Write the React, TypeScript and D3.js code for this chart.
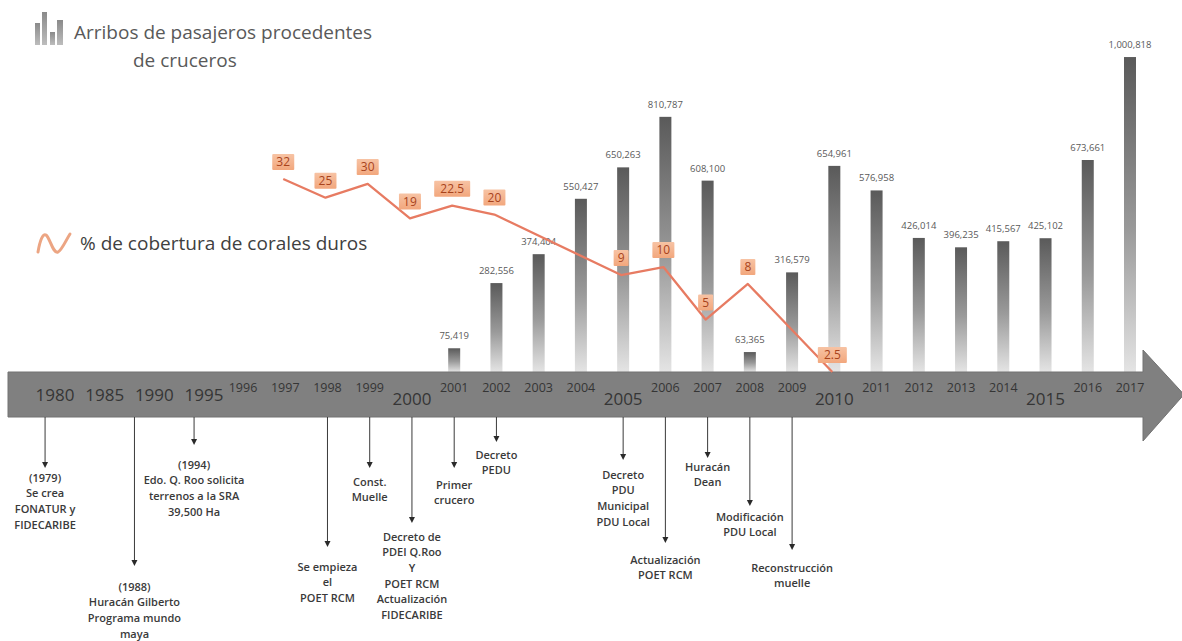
import React from "react";
import * as d3 from "d3";

const W = 1182;
const H = 641;

// Cruise passenger arrivals (bars)
const barYears = [2001, 2002, 2003, 2004, 2005, 2006, 2007, 2008, 2009, 2010, 2011, 2012, 2013, 2014, 2015, 2016, 2017];
const arrivals = [75419, 282556, 374404, 550427, 650263, 810787, 608100, 63365, 316579, 654961, 576958, 426014, 396235, 415567, 425102, 673661, 1000818];

// % hard coral cover (line)
const coralYears = [1997, 1998, 1999, 2000, 2001, 2002, 2005, 2006, 2007, 2008, 2010];
const coralCover = [32, 25, 30, 19, 22.5, 20, 9, 10, 5, 8, 2.5];
const coralLabels = ["32", "25", "30", "19", "22.5", "20", "9", "10", "5", "8", "2.5"];

// timeline tick labels
const majorYears = [1980, 1985, 1990, 1995, 2000, 2005, 2010, 2015];
const minorYears = [1996, 1997, 1998, 1999, 2001, 2002, 2003, 2004, 2006, 2007, 2008, 2009, 2011, 2012, 2013, 2014, 2016, 2017];

// timeline events
const eventYears = [1979, 1988, 1994, 1998, 1999, 2000, 2001, 2002, 2005, 2006, 2007, 2008, 2009];
const eventTexts = [
  ["(1979)", "Se crea", "FONATUR y", "FIDECARIBE"],
  ["(1988)", "Huracán Gilberto", "Programa mundo", "maya"],
  ["(1994)", "Edo. Q. Roo solicita", "terrenos a la SRA", "39,500  Ha"],
  ["Se empieza", "el", "POET RCM"],
  ["Const.", "Muelle"],
  ["Decreto de", "PDEI Q.Roo", "Y", "POET RCM", "Actualización", "FIDECARIBE"],
  ["Primer", "crucero"],
  ["Decreto", "PEDU"],
  ["Decreto", "PDU", "Municipal", "PDU Local"],
  ["Actualización", "POET RCM"],
  ["Huracán", "Dean"],
  ["Modificación", "PDU Local"],
  ["Reconstrucción", "muelle"],
];

const titleLines = ["Arribos de pasajeros procedentes", "de cruceros"];
const coralLegend = "% de cobertura de corales duros";

export default function App() {
  // layout
  const bandTop = 372;
  const bandBottom = 417;
  const bandLeft = 8;
  const shaftEnd = 1143;
  const tipX = 1184;
  const headTop = 350;
  const headBottom = 441;
  const bandMid = (bandTop + bandBottom) / 2;

  // arrow tip y and first text line y for each event (layout only)
  const eventTip = [468, 566, 445, 547, 468, 523, 468, 442, 460, 543, 458, 506, 550];
  const eventText = [478, 587, 465, 567, 482, 537, 485, 455, 475, 560, 467, 517, 568];
  const lineH = 15.6;

  const x = d3.scaleLinear().domain([1980, 1995, 1996, 2017]).range([55, 204, 243, 1130]);
  const yBar = d3.scaleLinear().domain([0, 1000000]).range([bandTop, 57.3]);
  const yCoral = d3.scaleLog().domain([2.5, 32]).range([bandTop, 179]);
  const fmt = d3.format(",");
  const barW = 12;

  const linePath = d3
    .line<number>()
    .x((_, i) => x(coralYears[i]) - 2)
    .y((d) => yCoral(d))(coralCover);

  const font = "'Open Sans', 'DejaVu Sans', sans-serif";

  return (
    <svg width={W} height={H} style={{ position: "absolute", left: 0, top: 0, background: "#fff" }} fontFamily={font}>
      <defs>
        <linearGradient id="barGrad" x1="0" y1="0" x2="0" y2="1">
          <stop offset="0" stopColor="#5a5a5a" />
          <stop offset="0.55" stopColor="#9a9a9a" />
          <stop offset="1" stopColor="#e4e4e4" />
        </linearGradient>
        <linearGradient id="iconGrad" x1="0" y1="0" x2="0" y2="1">
          <stop offset="0" stopColor="#8a8a8a" />
          <stop offset="1" stopColor="#bdbdbd" />
        </linearGradient>
        <linearGradient id="boxGrad" x1="0" y1="0" x2="0" y2="1">
          <stop offset="0" stopColor="#f7c3a4" />
          <stop offset="1" stopColor="#f2a77d" />
        </linearGradient>
      </defs>

      {/* Legend: bars */}
      <g>
        <rect x={35} y={23} width={5} height={22} fill="url(#iconGrad)" />
        <rect x={42} y={12} width={5} height={33} fill="url(#iconGrad)" />
        <rect x={50} y={32} width={5} height={13} fill="url(#iconGrad)" />
        <rect x={57} y={20} width={6} height={25} fill="url(#iconGrad)" />
        <text x={74} y={32} dy="0.35em" fontSize={19} fill="#595959">{titleLines[0]}</text>
        <text x={133} y={60} dy="0.35em" fontSize={19} fill="#595959">{titleLines[1]}</text>
      </g>

      {/* Legend: line */}
      <g>
        <path d="M38,252 C40,240 43,233 46,235 C50,238 53,254 58,252 C62,250 66,240 70,234" fill="none" stroke="#eca583" strokeWidth={3} strokeLinecap="round" />
        <text x={80} y={243} dy="0.35em" fontSize={19} fill="#404040">{coralLegend}</text>
      </g>

      {/* Bars */}
      <g>
        {arrivals.map((v, i) => (
          <g key={barYears[i]}>
            <rect x={x(barYears[i]) - barW / 2} y={yBar(v)} width={barW} height={bandTop - yBar(v)} fill="url(#barGrad)" />
            <text x={x(barYears[i])} y={yBar(v) - 9} textAnchor="middle" fontSize={9.5} fill="#595959">{fmt(v)}</text>
          </g>
        ))}
      </g>

      {/* Timeline arrow */}
      <path
        d={`M${bandLeft},${bandTop} L${shaftEnd},${bandTop} L${shaftEnd},${headTop} L${tipX},${bandMid} L${shaftEnd},${headBottom} L${shaftEnd},${bandBottom} L${bandLeft},${bandBottom} Z`}
        fill="#808080"
        stroke="#727272"
        strokeWidth={1}
      />

      {/* Year labels */}
      <g fill="#353535">
        {majorYears.map((yr) => (
          <text key={yr} x={x(yr)} y={yr < 2000 ? 395 : 399} dy="0.35em" textAnchor="middle" fontSize={17}>{yr}</text>
        ))}
        {minorYears.map((yr) => (
          <text key={yr} x={x(yr)} y={388} dy="0.35em" textAnchor="middle" fontSize={12.5}>{yr}</text>
        ))}
      </g>

      {/* Coral line */}
      <path d={linePath ?? ""} fill="none" stroke="#e77b62" strokeWidth={2.3} strokeLinejoin="round" />
      <g>
        {coralCover.map((v, i) => {
          const cx = x(coralYears[i]) - 2;
          const cy = yCoral(v) - 17;
          const w = coralLabels[i].length * 7 + 8;
          return (
            <g key={coralYears[i]}>
              <rect x={cx - w / 2} y={cy - 8} width={w} height={16} fill="url(#boxGrad)" rx={1} />
              <text x={cx} y={cy} dy="0.36em" textAnchor="middle" fontSize={12} fill="#a8431c">{coralLabels[i]}</text>
            </g>
          );
        })}
      </g>

      {/* Events */}
      <g>
        {eventYears.map((yr, i) => {
          const ex = x(yr);
          const tip = eventTip[i];
          return (
            <g key={yr}>
              <line x1={ex} x2={ex} y1={bandBottom} y2={tip - 4} stroke="#3a3a3a" strokeWidth={1} />
              <path d={`M${ex - 3},${tip - 6} L${ex + 3},${tip - 6} L${ex},${tip} Z`} fill="#2a2a2a" />
              {eventTexts[i].map((t, j) => (
                <text key={j} x={ex} y={eventText[i] + j * lineH} dy="0.35em" textAnchor="middle" fontSize={11} fontWeight={600} fill="#3a3a3a">{t}</text>
              ))}
            </g>
          );
        })}
      </g>
    </svg>
  );
}
